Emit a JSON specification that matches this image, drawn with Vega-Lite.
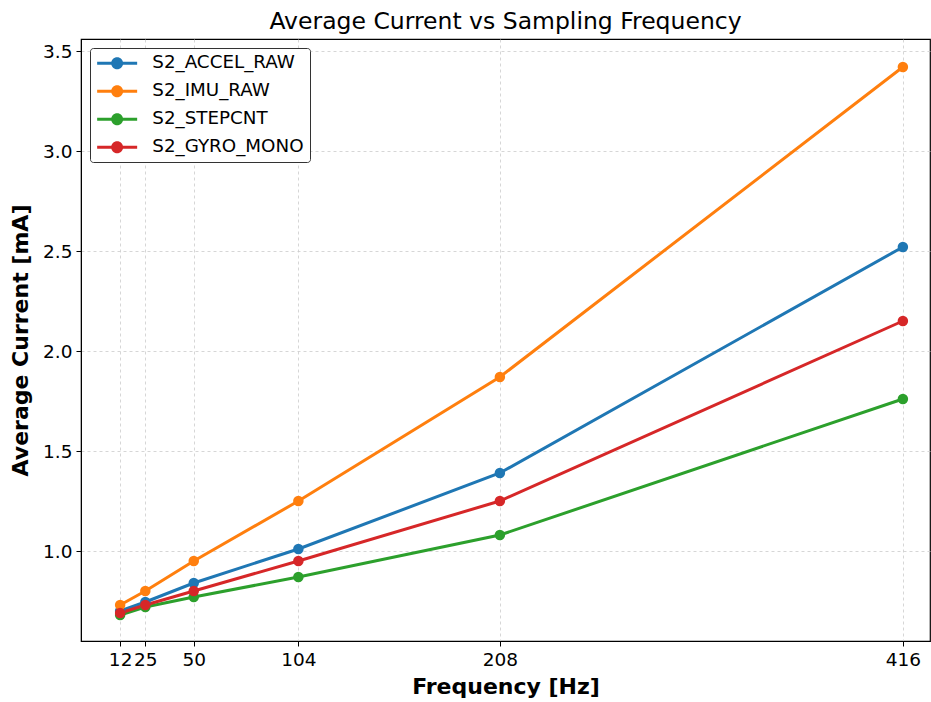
{
  "$schema": "https://vega.github.io/schema/vega-lite/v6.json",
  "autosize": "none",
  "width": 849,
  "height": 602,
  "padding": {"left": 81, "top": 39, "right": 1, "bottom": 61},
  "background": "white",
  "config": {
    "font": "DejaVu Sans",
    "view": {"stroke": "black", "strokeWidth": 1.2}
  },
  "title": {"text": "Average Current vs Sampling Frequency", "fontSize": 23.5, "fontWeight": "normal", "color": "black", "offset": 6, "font": "DejaVu Sans"},
  "data": {"values": [
    {"freq": 12, "current": 0.70, "series": "S2_ACCEL_RAW"},
    {"freq": 25, "current": 0.745, "series": "S2_ACCEL_RAW"},
    {"freq": 50, "current": 0.84, "series": "S2_ACCEL_RAW"},
    {"freq": 104, "current": 1.01, "series": "S2_ACCEL_RAW"},
    {"freq": 208, "current": 1.39, "series": "S2_ACCEL_RAW"},
    {"freq": 416, "current": 2.52, "series": "S2_ACCEL_RAW"},
    {"freq": 12, "current": 0.73, "series": "S2_IMU_RAW"},
    {"freq": 25, "current": 0.80, "series": "S2_IMU_RAW"},
    {"freq": 50, "current": 0.95, "series": "S2_IMU_RAW"},
    {"freq": 104, "current": 1.25, "series": "S2_IMU_RAW"},
    {"freq": 208, "current": 1.87, "series": "S2_IMU_RAW"},
    {"freq": 416, "current": 3.42, "series": "S2_IMU_RAW"},
    {"freq": 12, "current": 0.68, "series": "S2_STEPCNT"},
    {"freq": 25, "current": 0.72, "series": "S2_STEPCNT"},
    {"freq": 50, "current": 0.77, "series": "S2_STEPCNT"},
    {"freq": 104, "current": 0.87, "series": "S2_STEPCNT"},
    {"freq": 208, "current": 1.08, "series": "S2_STEPCNT"},
    {"freq": 416, "current": 1.76, "series": "S2_STEPCNT"},
    {"freq": 12, "current": 0.69, "series": "S2_GYRO_MONO"},
    {"freq": 25, "current": 0.73, "series": "S2_GYRO_MONO"},
    {"freq": 50, "current": 0.80, "series": "S2_GYRO_MONO"},
    {"freq": 104, "current": 0.95, "series": "S2_GYRO_MONO"},
    {"freq": 208, "current": 1.25, "series": "S2_GYRO_MONO"},
    {"freq": 416, "current": 2.15, "series": "S2_GYRO_MONO"}
  ]},
  "encoding": {
    "x": {
      "field": "freq", "type": "quantitative",
      "scale": {"domain": [-8.2, 430], "nice": false, "zero": false},
      "axis": {
        "values": [12, 25, 50, 104, 208, 416],
        "title": "Frequency [Hz]", "titleFontSize": 22, "titleFontWeight": "bold", "titleColor": "black", "titlePadding": 8,
        "labelFontSize": 18.5, "labelColor": "black", "labelPadding": 4, "labelOverlap": false,
        "tickColor": "black", "tickSize": 5, "domainColor": "black", "labelFlush": false,
        "grid": true, "gridDash": [3, 3], "gridColor": "#cccccc", "gridWidth": 0.8
      }
    },
    "y": {
      "field": "current", "type": "quantitative",
      "scale": {"domain": [0.55, 3.56], "nice": false, "zero": false},
      "axis": {
        "values": [1.0, 1.5, 2.0, 2.5, 3.0, 3.5], "format": ".1f",
        "title": "Average Current [mA]", "titleFontSize": 22, "titleFontWeight": "bold", "titleColor": "black", "titlePadding": 10,
        "labelFontSize": 18.5, "labelColor": "black", "labelPadding": 4,
        "tickColor": "black", "tickSize": 5, "domainColor": "black",
        "grid": true, "gridDash": [3, 3], "gridColor": "#cccccc", "gridWidth": 0.8
      }
    },
    "color": {
      "field": "series", "type": "nominal",
      "scale": {
        "domain": ["S2_ACCEL_RAW", "S2_IMU_RAW", "S2_STEPCNT", "S2_GYRO_MONO"],
        "range": ["#1f77b4", "#ff7f0e", "#2ca02c", "#d62728"]
      },
      "legend": {
        "title": null, "orient": "none", "legendX": 9, "legendY": 9,
        "labelFontSize": 18.3, "labelColor": "black",
        "symbolType": "M-1,-0.19L4,-0.19L4,0.19L-1,0.19Z M0.75,0A0.75,0.75 0 1,1 2.25,0A0.75,0.75 0 1,1 0.75,0Z",
        "symbolSize": 256, "symbolStrokeWidth": 0,
        "rowPadding": 9, "labelOffset": 38,
        "strokeColor": "#333333", "fillColor": "white", "cornerRadius": 3,
        "padding": 6
      }
    }
  },
  "layer": [
    {"mark": {"type": "line", "strokeWidth": 3}},
    {"mark": {"type": "point", "filled": true, "size": 110, "opacity": 1}}
  ]
}
